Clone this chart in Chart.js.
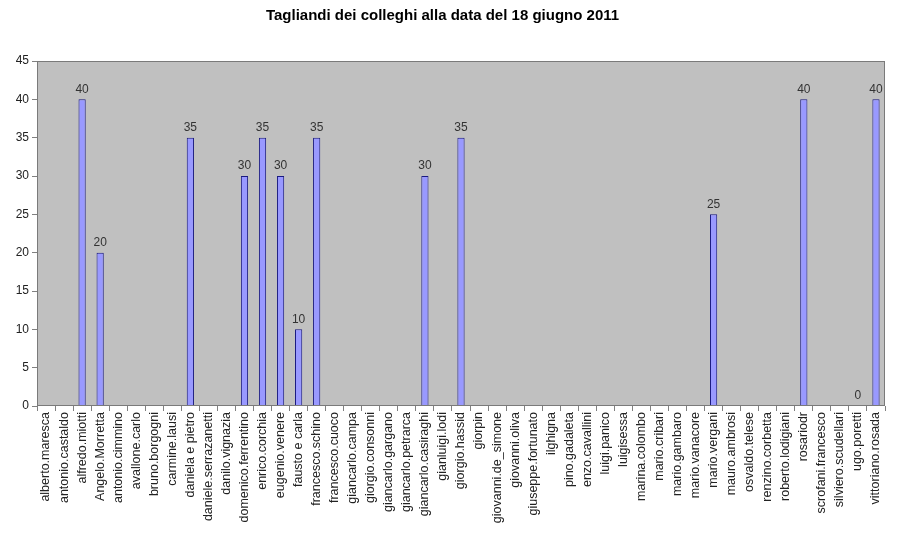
<!DOCTYPE html>
<html>
<head>
<meta charset="utf-8">
<script src="https://cdn.jsdelivr.net/npm/chart.js@4/dist/chart.umd.min.js"></script>
<style>
  html, body { margin: 0; padding: 0; background: #fff; }
  #wrap { width: 900px; height: 538px; position: relative; }
</style>
</head>
<body>
<div id="wrap"><canvas id="chart" width="900" height="538"></canvas></div>
<script>
// --- Data ---
const names = [
  'alberto.maresca', 'antonio.castaldo', 'alfredo.miotti', 'Angelo.Morretta',
  'antonio.cimmino', 'avallone.carlo', 'bruno.borgogni', 'carmine.lausi',
  'daniela e pietro', 'daniele.serrazanetti', 'danilo.vignazia', 'domenico.ferrentino',
  'enrico.corchia', 'eugenio.venere', 'fausto e carla', 'francesco.schino',
  'francesco.cuoco', 'giancarlo.campa', 'giorgio.consonni', 'giancarlo.gargano',
  'giancarlo.petrarca', 'giancarlo.casiraghi', 'gianluigi.lodi', 'giorgio.hassid',
  'giorpin', 'giovanni.de_simone', 'giovanni.oliva', 'giuseppe.fortunato',
  'ilghigna', 'pino.gadaleta', 'enzo.cavallini', 'luigi.panico',
  'luigisessa', 'marina.colombo', 'mario.cribari', 'mario.gambaro',
  'mario.vanacore', 'mario.vergani', 'mauro.ambrosi', 'osvaldo.telese',
  'renzino.corbetta', 'roberto.lodigiani', 'rosariodr', 'scrofani.francesco',
  'silviero.scudellari', 'ugo.poretti', 'vittoriano.rosada'
];
const tagliandi = [
  null, null, 40, 20,
  null, null, null, null,
  35, null, null, 30,
  35, 30, 10, 35,
  null, null, null, null,
  null, 30, null, 35,
  null, null, null, null,
  null, null, null, null,
  null, null, null, null,
  null, 25, null, null,
  null, null, 40, null,
  null, 0, 40
];
const yTicks = [0, 5, 10, 15, 20, 25, 30, 35, 40, 45];

const FONT = '"Liberation Sans", Arial, sans-serif';

// --- Plugins ---
const plotBackground = {
  id: 'plotBackground',
  beforeDatasetsDraw(chart) {
    const { ctx, chartArea: a } = chart;
    ctx.save();
    ctx.fillStyle = '#c0c0c0';
    ctx.fillRect(a.left, a.top, a.right - a.left, a.bottom - a.top);
    ctx.restore();
  },
  afterDatasetsDraw(chart) {
    const { ctx, chartArea: a } = chart;
    ctx.save();
    ctx.strokeStyle = '#7a7a7a';
    ctx.lineWidth = 1;
    ctx.strokeRect(a.left + 0.5, a.top + 0.5, a.right - a.left - 1, a.bottom - a.top - 1);
    ctx.restore();
  }
};

const valueLabels = {
  id: 'valueLabels',
  afterDatasetsDraw(chart) {
    const { ctx } = chart;
    const meta = chart.getDatasetMeta(0);
    ctx.save();
    ctx.font = '12px ' + FONT;
    ctx.fillStyle = '#333';
    ctx.textAlign = 'center';
    ctx.textBaseline = 'bottom';
    meta.data.forEach((bar, i) => {
      const v = tagliandi[i];
      if (v === null) return;
      ctx.fillText(String(v), bar.x, bar.y - 4);
    });
    ctx.restore();
  }
};

// --- Chart ---
new Chart(document.getElementById('chart'), {
  type: 'bar',
  data: {
    labels: names,
    datasets: [{
      data: tagliandi,
      backgroundColor: '#9999ff',
      borderColor: '#1a1a80',
      borderWidth: 1,
      borderSkipped: 'bottom',
      barPercentage: 0.4,
      categoryPercentage: 1
    }]
  },
  options: {
    responsive: false,
    animation: false,
    layout: { padding: { left: 0, right: 15, top: 0, bottom: 0 } },
    plugins: {
      legend: { display: false },
      tooltip: { enabled: false },
      title: {
        display: true,
        text: 'Tagliandi dei colleghi alla data del 18 giugno 2011',
        color: '#000',
        font: { family: FONT, size: 15, weight: 'bold' },
        padding: { top: 7, bottom: 36 }
      }
    },
    scales: {
      x: {
        offset: true,
        grid: { display: true, drawOnChartArea: false, drawTicks: true, tickLength: 5, color: '#808080', offset: true },
        border: { display: false },
        ticks: {
          autoSkip: false,
          minRotation: 90,
          maxRotation: 90,
          padding: 1,
          color: '#222',
          font: { family: FONT, size: 12.5 }
        },
        afterFit(scale) { scale.height = 132; }
      },
      y: {
        min: 0,
        max: 45,
        afterBuildTicks(scale) { scale.ticks = yTicks.map(v => ({ value: v })); },
        grid: { display: true, drawOnChartArea: false, drawTicks: true, tickLength: 5, color: '#808080' },
        border: { display: false },
        ticks: {
          padding: 3,
          color: '#222',
          font: { family: FONT, size: 12 }
        },
        afterFit(scale) { scale.width = 37; }
      }
    }
  },
  plugins: [plotBackground, valueLabels]
});
</script>
</body>
</html>
